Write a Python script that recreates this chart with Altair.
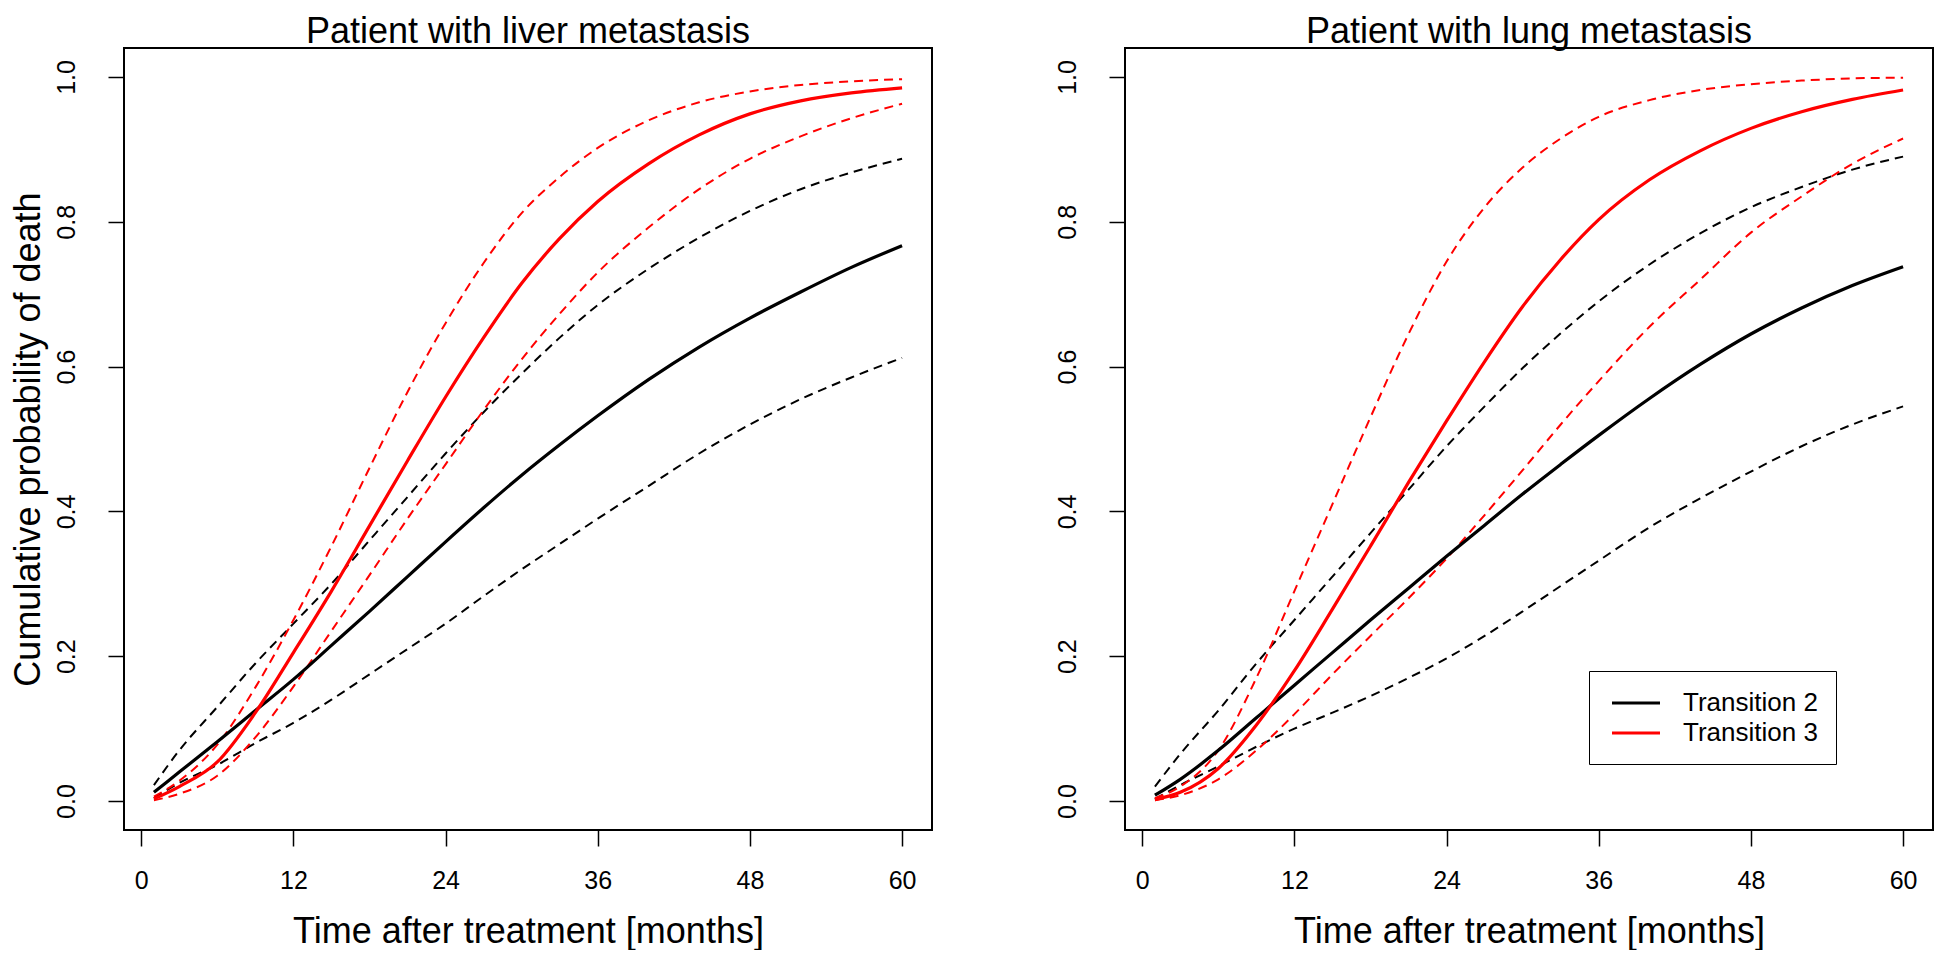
import altair as alt
import pandas as pd

T = [1, 3, 6, 9, 12, 15, 18, 21, 24, 27, 30, 33, 36, 40, 44, 48, 52, 56, 60]

# Patient with liver metastasis
liver_t2_est = [0.012, 0.04, 0.082, 0.125, 0.168, 0.215, 0.262, 0.31, 0.358, 0.405, 0.45, 0.492, 0.532, 0.582, 0.627, 0.667, 0.703, 0.737, 0.767]
liver_t2_lo = [0.004, 0.025, 0.05, 0.08, 0.108, 0.14, 0.175, 0.21, 0.245, 0.283, 0.32, 0.355, 0.39, 0.435, 0.48, 0.52, 0.555, 0.585, 0.612]
liver_t2_hi = [0.022, 0.07, 0.13, 0.19, 0.245, 0.30, 0.36, 0.42, 0.48, 0.537, 0.59, 0.64, 0.685, 0.735, 0.778, 0.815, 0.845, 0.868, 0.887]
liver_t3_est = [0.003, 0.02, 0.054, 0.122, 0.205, 0.29, 0.38, 0.47, 0.558, 0.64, 0.715, 0.777, 0.828, 0.88, 0.92, 0.949, 0.967, 0.978, 0.985]
liver_t3_lo = [0.001, 0.01, 0.035, 0.088, 0.158, 0.235, 0.312, 0.39, 0.465, 0.54, 0.61, 0.673, 0.73, 0.792, 0.845, 0.887, 0.918, 0.943, 0.963]
liver_t3_hi = [0.006, 0.028, 0.078, 0.157, 0.25, 0.352, 0.46, 0.565, 0.66, 0.743, 0.812, 0.862, 0.902, 0.94, 0.965, 0.98, 0.989, 0.994, 0.997]

# Patient with lung metastasis
lung_t2_est = [0.008, 0.03, 0.07, 0.115, 0.16, 0.205, 0.25, 0.294, 0.338, 0.381, 0.424, 0.465, 0.505, 0.556, 0.603, 0.645, 0.681, 0.712, 0.738]
lung_t2_lo = [0.003, 0.022, 0.048, 0.075, 0.1, 0.122, 0.145, 0.17, 0.197, 0.228, 0.262, 0.297, 0.332, 0.378, 0.418, 0.455, 0.49, 0.52, 0.545]
lung_t2_hi = [0.02, 0.065, 0.125, 0.19, 0.25, 0.31, 0.37, 0.43, 0.49, 0.545, 0.598, 0.646, 0.69, 0.741, 0.784, 0.82, 0.848, 0.872, 0.89]
lung_t3_est = [0.002, 0.012, 0.045, 0.105, 0.18, 0.265, 0.352, 0.44, 0.525, 0.607, 0.683, 0.748, 0.803, 0.858, 0.898, 0.929, 0.952, 0.969, 0.982]
lung_t3_lo = [0.001, 0.008, 0.03, 0.07, 0.12, 0.175, 0.228, 0.28, 0.335, 0.395, 0.457, 0.52, 0.58, 0.655, 0.72, 0.785, 0.835, 0.88, 0.915]
lung_t3_hi = [0.004, 0.02, 0.07, 0.17, 0.29, 0.41, 0.53, 0.645, 0.745, 0.82, 0.875, 0.915, 0.945, 0.968, 0.982, 0.99, 0.995, 0.998, 0.999]

transitions = ["Transition 2", "Transition 3"]
colors = ["black", "red"]
x_ticks = [0, 12, 24, 36, 48, 60]
y_ticks = [0.0, 0.2, 0.4, 0.6, 0.8, 1.0]

series = [
    ("liver", "Transition 2", liver_t2_est, liver_t2_lo, liver_t2_hi),
    ("liver", "Transition 3", liver_t3_est, liver_t3_lo, liver_t3_hi),
    ("lung", "Transition 2", lung_t2_est, lung_t2_lo, lung_t2_hi),
    ("lung", "Transition 3", lung_t3_est, lung_t3_lo, lung_t3_hi),
]
rows = []
for panel, tr, est, lo, hi in series:
    for t, e, l, h in zip(T, est, lo, hi):
        rows.append({"panel": panel, "transition": tr, "t": t, "est": e, "lo": l, "hi": h})
df = pd.DataFrame(rows)

FONT = "Liberation Sans"
W, H = 808, 782
INTERP = "monotone"


def make_panel(panel, title, y_title, show_legend):
    base = alt.Chart(df).transform_filter(alt.datum.panel == panel)
    x_enc = alt.X(
        "t:Q",
        scale=alt.Scale(domain=[-1.36, 62.36], nice=False, zero=False),
        axis=alt.Axis(
            values=x_ticks, format="d", title="Time after treatment [months]",
            labelPadding=42, labelBaseline="alphabetic",
            titleX=W / 2, titleY=112, titleAlign="center", titleBaseline="alphabetic",
            titleAngle=0,
        ),
    )

    def y_enc(field):
        if y_title:
            ax = alt.Axis(
                values=y_ticks, format=".1f", title=y_title, labelAngle=270,
                labelAlign="center", labelBaseline="alphabetic", labelPadding=34,
                titleX=-85, titleY=H / 2, titleAngle=270, titleAlign="center",
                titleBaseline="alphabetic",
            )
        else:
            ax = alt.Axis(
                values=y_ticks, format=".1f", title=None, labelAngle=270,
                labelAlign="center", labelBaseline="alphabetic", labelPadding=34,
            )
        return alt.Y(field, scale=alt.Scale(domain=[-0.04, 1.04], nice=False, zero=False), axis=ax)

    layers = []
    for tr, col in zip(transitions, colors):
        layers.append(
            base.transform_filter(alt.datum.transition == tr)
            .transform_fold(["lo", "hi"], as_=["bound", "val"])
            .mark_line(color=col, strokeWidth=2, strokeDash=[9, 6], interpolate=INTERP)
            .encode(x=x_enc, y=y_enc("val:Q"), detail="bound:N")
        )
    if show_legend:
        leg = alt.Legend(
            orient="none", legendX=464, legendY=623, title=None,
            symbolType="M-0.75,0H3.25", symbolSize=576, symbolStrokeWidth=3.2,
            labelFontSize=26, labelFont=FONT, labelColor="black", labelOffset=48,
            padding=18, rowPadding=3, strokeColor="black", fillColor="white",
        )
    else:
        leg = None
    layers.append(
        base.mark_line(strokeWidth=3.2, interpolate=INTERP).encode(
            x=x_enc,
            y=y_enc("est:Q"),
            color=alt.Color("transition:N", scale=alt.Scale(domain=transitions, range=colors), legend=leg),
            detail="transition:N",
        )
    )
    return alt.layer(*layers).properties(
        width=W, height=H,
        title=alt.TitleParams(
            text=title, fontSize=36, font=FONT, fontWeight="normal", color="black",
            anchor="middle", offset=-3,
        ),
    )


left = make_panel("liver", "Patient with liver metastasis", "Cumulative probability of death", False)
right = make_panel("lung", "Patient with lung metastasis", None, True)

chart = (
    alt.hconcat(left, right, spacing=193, bounds="flush")
    .resolve_scale(color="independent")
    .properties(padding={"left": 0, "top": 5, "right": 0, "bottom": 0}, background="white")
    .configure_view(stroke="black", strokeWidth=2)
    .configure_axis(
        labelFont=FONT, labelFontSize=25, labelColor="black",
        titleFont=FONT, titleFontSize=36, titleFontWeight="normal", titleColor="black",
        tickColor="black", tickWidth=1.5, tickSize=16, domain=False, grid=False,
    )
)

chart.save("out.html", embed_options={"renderer": "svg", "actions": False})
